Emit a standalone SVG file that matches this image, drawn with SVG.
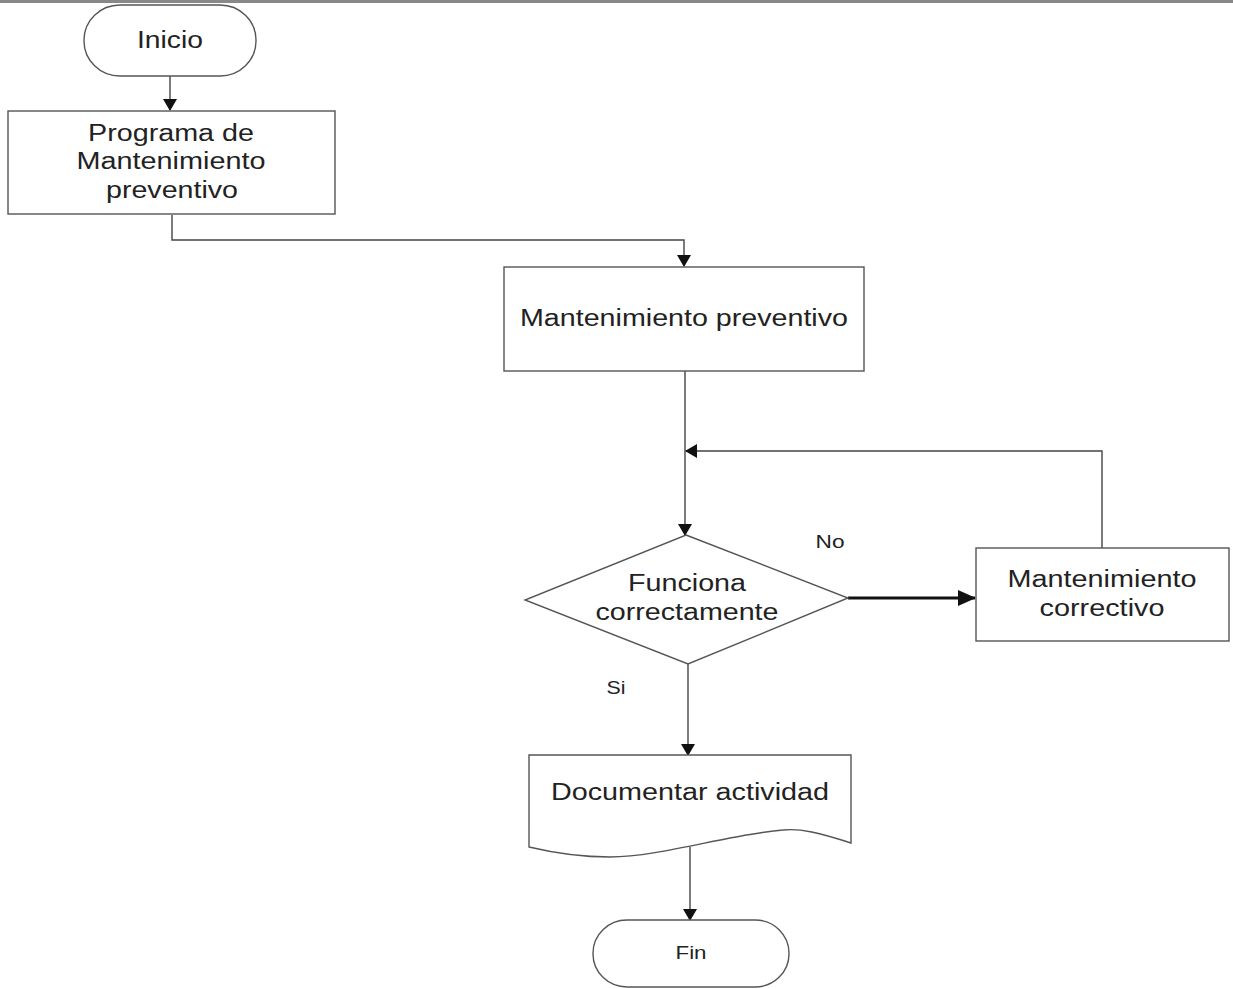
<svg xmlns="http://www.w3.org/2000/svg" width="1233" height="989" viewBox="0 0 1233 989">
<style>
.s{fill:#fff;stroke:#555;stroke-width:1.4}
.t{font-family:"Liberation Sans",Arial,sans-serif;font-size:23px;fill:#222;text-anchor:middle}
.sm{font-size:18px}
.c{fill:none;stroke:#444;stroke-width:1.4}
.k{fill:none;stroke:#111;stroke-width:3}
</style>
<defs>
<marker id="a" markerWidth="12" markerHeight="14" refX="11" refY="7" orient="auto" markerUnits="userSpaceOnUse">
<path d="M0,0 L12,7 L0,14 Z" fill="#111"/>
</marker>
<marker id="b" markerWidth="18" markerHeight="16" refX="17" refY="8" orient="auto" markerUnits="userSpaceOnUse">
<path d="M0,0 L18,8 L0,16 Z" fill="#111"/>
</marker>
</defs>
<rect width="1233" height="989" fill="#fff"/>
<rect x="0" y="0" width="1233" height="3" fill="#888"/>
<g id="connectors">
<path class="c" d="M170,76 V110" marker-end="url(#a)"/>
<path class="c" d="M172,215 V240 H684 V266" marker-end="url(#a)"/>
<path class="c" d="M685,371 V535" marker-end="url(#a)"/>
<path class="c" d="M1102,548 V451 H686" marker-end="url(#a)"/>
<path class="k" d="M848,598 H975" marker-end="url(#b)"/>
<path class="c" d="M688,664 V755" marker-end="url(#a)"/>
<path class="c" d="M690,847 V920" marker-end="url(#a)"/>
</g>
<g id="inicio">
<rect class="s" x="84" y="5" width="172" height="71" rx="36" ry="35"/>
<text class="t" x="170" y="48" textLength="66" lengthAdjust="spacingAndGlyphs">Inicio</text>
</g>
<g id="programa">
<rect class="s" x="8" y="111" width="327" height="103"/>
<text class="t" x="171" y="141" textLength="166" lengthAdjust="spacingAndGlyphs">Programa de</text>
<text class="t" x="171" y="169" textLength="189" lengthAdjust="spacingAndGlyphs">Mantenimiento</text>
<text class="t" x="172" y="198" textLength="132" lengthAdjust="spacingAndGlyphs">preventivo</text>
</g>
<g id="preventivo">
<rect class="s" x="504" y="267" width="360" height="104"/>
<text class="t" x="684" y="326" textLength="328" lengthAdjust="spacingAndGlyphs">Mantenimiento preventivo</text>
</g>
<g id="decision">
<polygon class="s" points="686,535 848,598 688,664 525,600"/>
<text class="t" x="687" y="591" textLength="118" lengthAdjust="spacingAndGlyphs">Funciona</text>
<text class="t" x="687" y="620" textLength="183" lengthAdjust="spacingAndGlyphs">correctamente</text>
</g>
<g id="correctivo">
<rect class="s" x="976" y="548" width="253" height="93"/>
<text class="t" x="1102" y="587" textLength="189" lengthAdjust="spacingAndGlyphs">Mantenimiento</text>
<text class="t" x="1102" y="616" textLength="125" lengthAdjust="spacingAndGlyphs">correctivo</text>
</g>
<g id="labels">
<text class="t sm" x="830" y="548" textLength="29" lengthAdjust="spacingAndGlyphs">No</text>
<text class="t sm" x="616" y="694" textLength="19" lengthAdjust="spacingAndGlyphs">Si</text>
</g>
<g id="documentar">
<path class="s" d="M529,755 H851 V843 C820,833 800,828 783,830 C730,834 660,857 610,857 C575,857 550,852 529,847 Z"/>
<text class="t" x="690" y="800" textLength="278" lengthAdjust="spacingAndGlyphs">Documentar actividad</text>
</g>
<g id="fin">
<rect class="s" x="593" y="920" width="196" height="67" rx="34" ry="33"/>
<text class="t sm" x="691" y="959" textLength="31" lengthAdjust="spacingAndGlyphs">Fin</text>
</g>
</svg>
